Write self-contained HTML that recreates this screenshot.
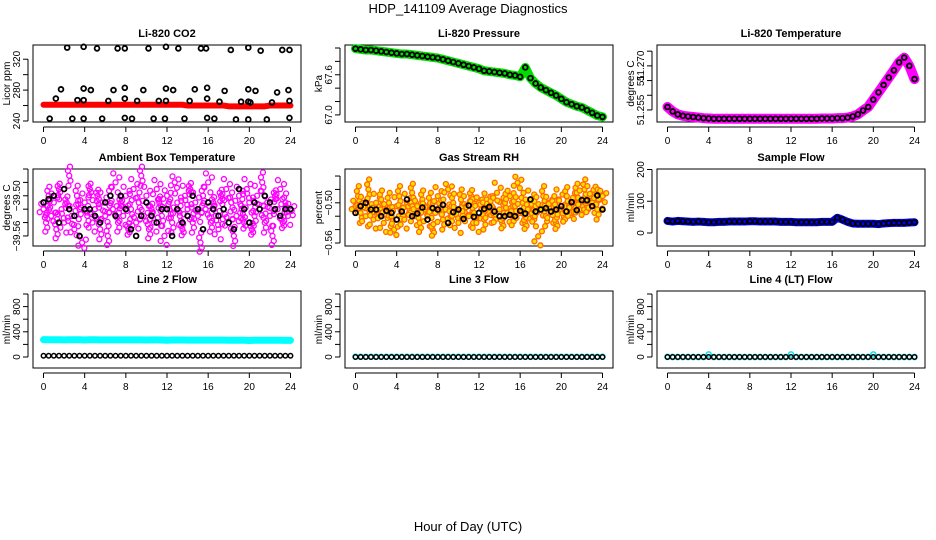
<!DOCTYPE html>
<html><head><meta charset="utf-8"><style>
html,body{margin:0;padding:0;background:#fff;}
svg{display:block;font-family:"Liberation Sans",sans-serif;}
</style></head><body>
<svg id="chart" width="936" height="540" viewBox="0 0 936 540">
<text x="468" y="13" text-anchor="middle" font-size="13">HDP_141109  Average Diagnostics</text>
<text x="468" y="531" text-anchor="middle" font-size="13">Hour of Day (UTC)</text>
</svg>
<script>
// ---- data ----
const xTicks = [0,4,8,12,16,20,24];
const co2Red = [261,261,261,261,261,261,261,261,261,261,261,261,261,261,261,261,261,261,261,261,261,261,261,261,261,261,261,261,260,260,260,260,260,260,260,260,259,259,259,259,259,259,259,259,260,260,260,260,260];
const co2BlackHours = [2.3,3.9,5.2,7.2,7.9,10.2,11.9,13.1,15.3,15.8,18.2,19.9,21.1,23.2,23.9, 1.7,3.9,4.6,6.8,7.9,9.7,11.9,12.6,14.7,15.9,17.6,19.9,20.6,22.7,23.8, 1.2,3.3,3.9,6.3,7.9,9.1,11.2,11.9,14.2,15.9,17.1,19.2,19.9,20.1,22.2,23.9, 0.6,2.8,3.9,5.7,7.9,8.6,10.7,11.8,13.7,15.9,16.6,18.7,19.9,21.7,23.9];
const co2BlackValues = [335,336,334,334,334,334,336,334,334,334,332,335,331,332,332, 281,282,280,280,283,280,282,280,281,283,279,281,279,277,280, 269,267,267,266,269,266,266,266,266,269,265,265,265,264,264,266, 243,243,243,243,244,243,243,243,243,244,243,242,242,242,244];
const pressure = [67.99,67.98,67.97,67.97,67.96,67.95,67.94,67.93,67.92,67.91,67.91,67.90,67.89,67.88,67.87,67.86,67.85,67.83,67.81,67.79,67.77,67.75,67.73,67.71,67.69,67.66,67.65,67.64,67.63,67.62,67.60,67.59,67.57,67.71,67.55,67.47,67.41,67.37,67.33,67.29,67.24,67.19,67.16,67.13,67.11,67.07,67.03,66.99,66.97];
const temperature = [51.2560,51.2545,51.2535,51.2530,51.2528,51.2526,51.2524,51.2522,51.2521,51.2520,51.2520,51.2520,51.2520,51.2520,51.2520,51.2520,51.2520,51.2520,51.2520,51.2520,51.2520,51.2520,51.2520,51.2520,51.2520,51.2520,51.2520,51.2520,51.2520,51.2520,51.2521,51.2521,51.2521,51.2522,51.2522,51.2524,51.2528,51.2535,51.2548,51.2560,51.2585,51.2610,51.2635,51.2660,51.2685,51.2712,51.2728,51.2700,51.2655];
const ambientMagenta = [-39.52,-39.54,-39.50,-39.53,-39.51,-39.55,-39.49,-39.52,-39.54,-39.51,-39.47,-39.53,-39.55,-39.50,-39.52,-39.57,-39.51,-39.53,-39.49,-39.54,-39.52,-39.50,-39.55,-39.51,-39.53,-39.56,-39.50,-39.52,-39.48,-39.54,-39.51,-39.53,-39.50,-39.55,-39.52,-39.49,-39.54,-39.51,-39.47,-39.53,-39.50,-39.55,-39.52,-39.54,-39.49,-39.51,-39.53,-39.56,-39.50,-39.52,-39.54,-39.48,-39.51,-39.53,-39.55,-39.50,-39.52,-39.49,-39.54,-39.51,-39.53,-39.57,-39.50,-39.52,-39.48,-39.54,-39.51,-39.53,-39.55,-39.50,-39.52,-39.49,-39.54,-39.51,-39.56,-39.53,-39.50,-39.52,-39.54,-39.49,-39.51,-39.55,-39.53,-39.50,-39.52,-39.48,-39.54,-39.51,-39.53,-39.56,-39.50,-39.52,-39.49,-39.54,-39.51,-39.53,-39.52];
const ambientBlack = [-39.51,-39.505,-39.50,-39.54,-39.49,-39.52,-39.53,-39.56,-39.52,-39.52,-39.53,-39.54,-39.51,-39.50,-39.53,-39.50,-39.52,-39.55,-39.56,-39.53,-39.51,-39.53,-39.54,-39.52,-39.52,-39.56,-39.52,-39.54,-39.53,-39.50,-39.52,-39.55,-39.51,-39.52,-39.53,-39.52,-39.54,-39.55,-39.49,-39.52,-39.54,-39.51,-39.52,-39.50,-39.51,-39.52,-39.53,-39.52,-39.52];
const rhOrange = [-0.505,-0.49,-0.515,-0.50,-0.52,-0.48,-0.51,-0.525,-0.50,-0.515,-0.495,-0.53,-0.51,-0.50,-0.52,-0.54,-0.505,-0.49,-0.515,-0.525,-0.50,-0.51,-0.485,-0.52,-0.505,-0.53,-0.495,-0.51,-0.52,-0.50,-0.54,-0.515,-0.49,-0.505,-0.525,-0.51,-0.48,-0.52,-0.50,-0.515,-0.53,-0.495,-0.51,-0.505,-0.52,-0.49,-0.515,-0.53,-0.50,-0.51,-0.525,-0.495,-0.515,-0.505,-0.52,-0.485,-0.51,-0.53,-0.50,-0.515,-0.49,-0.52,-0.505,-0.47,-0.515,-0.50,-0.53,-0.51,-0.495,-0.52,-0.505,-0.55,-0.51,-0.49,-0.52,-0.50,-0.515,-0.505,-0.53,-0.495,-0.51,-0.52,-0.49,-0.505,-0.515,-0.50,-0.485,-0.51,-0.495,-0.48,-0.505,-0.49,-0.50,-0.485,-0.51,-0.495,-0.49];
const rhBlack = [-0.515,-0.505,-0.50,-0.51,-0.51,-0.52,-0.512,-0.515,-0.525,-0.513,-0.495,-0.52,-0.516,-0.507,-0.525,-0.508,-0.51,-0.503,-0.53,-0.514,-0.51,-0.524,-0.504,-0.521,-0.515,-0.509,-0.506,-0.513,-0.52,-0.52,-0.518,-0.52,-0.512,-0.516,-0.495,-0.513,-0.51,-0.508,-0.513,-0.51,-0.505,-0.513,-0.499,-0.511,-0.496,-0.496,-0.505,-0.489,-0.51];
const sampleFlow = [38,36,38,37,36,35,36,35,34,34,35,35,36,36,36,36,37,37,36,36,36,36,35,35,35,34,34,34,34,34,35,35,35,48,42,35,30,29,29,29,29,28,30,31,32,32,32,33,34];
const line2Cyan = [275,274,274,274,272,274,274,273,270,273,273,272,272,272,272,272,272,272,271,271,270,271,271,270,265,270,270,270,268,268,268,268,268,268,268,268,266,266,266,266,262,266,266,265,265,265,265,264,264];
const line2Black = [20,20,20,20,20,20,20,20,20,20,20,20,20,20,20,20,20,20,20,20,20,20,20,20,20,20,20,20,20,20,20,20,20,20,20,20,20,20,20,20,20,20,20,20,20,20,20,20,20];
const line3Cyan = [5,3,3,3,3,3,3,3,3,3,3,3,3,3,3,3,3,3,3,3,3,3,3,3,3,3,3,3,3,3,3,3,3,3,3,3,3,3,3,3,3,3,3,3,3,3,3,3,3];
const line3Black = [0,0,0,0,0,0,0,0,0,0,0,0,0,0,0,0,0,0,0,0,0,0,0,0,0,0,0,0,0,0,0,0,0,0,0,0,0,0,0,0,0,0,0,0,0,0,0,0,0];
const line4Cyan = [2,0,0,0,0,0,0,0,40,0,0,0,0,0,0,0,0,0,0,0,0,0,0,0,40,0,0,0,0,0,0,0,0,0,0,0,0,0,0,0,40,0,0,0,0,0,0,0,0];
const line4Black = [0,0,0,0,0,0,0,0,0,0,0,0,0,0,0,0,0,0,0,0,0,0,0,0,0,0,0,0,0,0,0,0,0,0,0,0,0,0,0,0,0,0,0,0,0,0,0,0,0];

// ---- drawing ----
const NS = "http://www.w3.org/2000/svg";
const svg = document.getElementById('chart');
const colX = [33,345,657], rowY = [45,169,291], BW = 268, BH = 77;
function mk(tag, attrs, parent){
  const e = document.createElementNS(NS, tag);
  for (const k in attrs) e.setAttribute(k, attrs[k]);
  (parent||svg).appendChild(e);
  return e;
}
function panel(name, title, yLabel, col, row, ymin, ymax, ticks, labels){
  const g = mk('g', {});
  
  
  const bx = colX[col], by = rowY[row];
  const xs = h => bx + 10.5 + h * 247 / 24;
  const ys = v => by + BH - (v - ymin) / (ymax - ymin) * BH;
  const box = mk('rect', {x:bx, y:by, width:BW, height:BH, fill:'none', stroke:'#000', 'stroke-width':1}, g);
  
  
  const t = mk('text', {x:bx+BW/2, y:by-8, 'text-anchor':'middle', 'font-size':11, 'font-weight':'bold'}, g);
  t.textContent = title;
  
  
  const yl = mk('text', {x:0, y:0, transform:`translate(${bx-23},${by+BH/2}) rotate(-90)`, 'text-anchor':'middle', 'font-size':10}, g);
  yl.textContent = yLabel;
  
  
  const xa = mk('g', {}, g);
  
  
  mk('line', {x1:xs(0), x2:xs(24), y1:by+BH+5, y2:by+BH+5, stroke:'#000'}, xa);
  xTicks.forEach(h => {
    mk('line', {x1:xs(h), x2:xs(h), y1:by+BH+5, y2:by+BH+10, stroke:'#000'}, xa);
    const tl = mk('text', {x:xs(h), y:by+BH+22, 'text-anchor':'middle', 'font-size':10}, xa);
    tl.textContent = h;
  });
  const ya = mk('g', {}, g);
  
  
  mk('line', {x1:bx-5, x2:bx-5, y1:ys(ticks[0]), y2:ys(ticks[ticks.length-1]), stroke:'#000'}, ya);
  ticks.forEach((v,i) => {
    mk('line', {x1:bx-10, x2:bx-5, y1:ys(v), y2:ys(v), stroke:'#000'}, ya);
    if (labels[i]) {
      const tl = mk('text', {x:0, y:0, transform:`translate(${bx-13},${ys(v)}) rotate(-90)`, 'text-anchor':'middle', 'font-size':10}, ya);
      tl.textContent = labels[i];
    }
  });
  return {g, xs, ys};
}
function hoursOf(arr){ return arr.map((_, i) => i * 24 / (arr.length - 1)); }
function band(p, name, arr, color, width){
  const hs = hoursOf(arr);
  const pl = mk('polyline', {points: arr.map((v,i)=>p.xs(hs[i])+','+p.ys(v)).join(' '), fill:'none', stroke:color, 'stroke-width':width, 'stroke-linejoin':'round', 'stroke-linecap':'round'}, p.g);
  
  
}
function pts(p, name, hs, arr, stroke, fill, r, sw){
  const gg = mk('g', {}, p.g);
  
  
  arr.forEach((v,i) => {
    mk('circle', {cx:p.xs(hs[i]), cy:p.ys(v), r:r, fill:fill, stroke:stroke, 'stroke-width':sw}, gg);
  });
}
// dense cloud: each reading drawn as a small cluster of markers (pixel offsets are styling only)
const clusterDx = [0, -2.5, 2.5, -1.5, 1.5];
const clusterDy = [0, 5, -5, -10, 9];
function cloud(p, name, arr, stroke, fill){
  const hs = hoursOf(arr);
  const gg = mk('g', {}, p.g);
  
  
  arr.forEach((v,i) => {
    const s = (i % 2) ? 1 : -1;
    clusterDx.forEach((dx,k) => {
      const cy = p.ys(v) + s * clusterDy[k] * ((i % 3) ? 1 : 0.6);
      mk('circle', {cx:p.xs(hs[i]) + dx * ((i%4)-1.5), cy:cy, r:2.5, fill:fill, stroke:stroke, 'stroke-width':1.3}, gg);
    });
  });
}

// CO2
let p = panel('co2','Li-820 CO2','Licor ppm',0,0,238.7,338.4,[240,260,280,300,320],['240','','280','','320']);
band(p,'co2-red-series',co2Red,'#ff0000',6);
pts(p,'co2-black-points',co2BlackHours,co2BlackValues,'#000','none',2.4,1.8);
// Pressure
p = panel('pressure','Li-820 Pressure','kPa',1,0,66.894,68.045,[67.0,67.2,67.4,67.6,67.8,68.0],['67.0','','','67.6','','']);
band(p,'pressure-green-series',pressure,'#00dd00',9);
pts(p,'pressure-black-points',hoursOf(pressure),pressure,'#000','none',2.4,1.8);
// Temperature
p = panel('temperature','Li-820 Temperature','degrees C',2,0,51.2509,51.2771,[51.255,51.260,51.265,51.270,51.275],['51.255','','51','51.270','']);
band(p,'temperature-magenta-series',temperature,'#ff00ff',10);
pts(p,'temperature-black-points',hoursOf(temperature),temperature,'#000','none',2.4,1.8);
// Ambient
p = panel('ambient','Ambient Box Temperature','degrees C',0,1,-39.575,-39.46,[-39.56,-39.54,-39.52,-39.50,-39.48,-39.46],['\u221239.56','','','\u221239.50','','']);
cloud(p,'ambient-magenta-points',ambientMagenta,'#ff00ff','none');
pts(p,'ambient-black-points',hoursOf(ambientBlack),ambientBlack,'#000','none',2.4,1.8);
// RH
p = panel('rh','Gas Stream RH','percent',1,1,-0.5645,-0.4495,[-0.56,-0.54,-0.52,-0.50,-0.48,-0.46],['\u22120.56','','','\u22120.50','','']);
cloud(p,'rh-orange-points',rhOrange,'#ff6a00','#ffe000');
pts(p,'rh-black-points',hoursOf(rhBlack),rhBlack,'#000','none',2.4,1.8);
// Sample flow
p = panel('sample-flow','Sample Flow','ml/min',2,1,-41,201.6,[0,100,200],['0','100','200']);
band(p,'sample-flow-blue-series',sampleFlow,'#0000ff',8);
pts(p,'sample-flow-black-points',hoursOf(sampleFlow),sampleFlow,'#000','none',2.4,1.8);
// Line flows
const lt = [0,200,400,600,800,1000], ll = ['0','','400','','800',''];
p = panel('line2-flow','Line 2 Flow','ml/min',0,2,-174.6,1047.6,lt,ll);
band(p,'line2-cyan-series',line2Cyan,'#00ffff',7);
pts(p,'line2-black-points',hoursOf(line2Black),line2Black,'#000','none',2.2,1.5);
p = panel('line3-flow','Line 3 Flow','ml/min',1,2,-174.6,1047.6,lt,ll);
pts(p,'line3-cyan-points',hoursOf(line3Cyan),line3Cyan,'#00e5ee','none',2.6,1.5);
pts(p,'line3-black-points',hoursOf(line3Black),line3Black,'#000','none',2.2,1.5);
p = panel('line4-flow','Line 4 (LT) Flow','ml/min',2,2,-174.6,1047.6,lt,ll);
pts(p,'line4-cyan-points',hoursOf(line4Cyan),line4Cyan,'#00e5ee','none',2.6,1.5);
pts(p,'line4-black-points',hoursOf(line4Black),line4Black,'#000','none',2.2,1.5);
</script>
</body></html>
